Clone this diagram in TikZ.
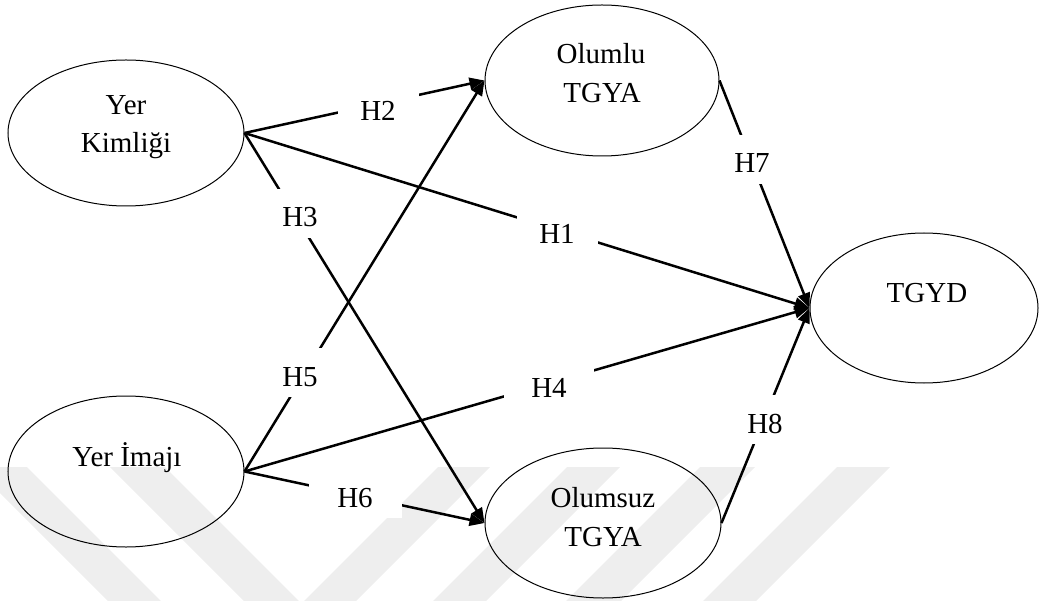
\documentclass[tikz,border=0pt]{standalone}
\usepackage{fontspec}
\setmainfont{Liberation Serif}
\usetikzlibrary{arrows.meta,shapes.geometric}
\definecolor{wmark}{RGB}{238,238,238}
\begin{document}
\begin{tikzpicture}[x=1pt,y=-1pt,
  construct/.style={ellipse, draw=black, line width=1pt, inner sep=0pt},
  caption/.style={font=\fontsize{29}{39}\selectfont, anchor=base, inner sep=0pt},
  link/.style={line width=2.5pt, -{Triangle[length=15pt,width=12pt]}},
  hyp/.style={fill=white, inner sep=0pt, font=\fontsize{29}{39}\selectfont,
    text height=27pt, text depth=0pt, minimum width=81pt, minimum height=49pt,
    anchor=base},
  stripe/.style={fill=wmark}
]
\useasboundingbox (0,0) rectangle (1040,601);

% faint chevron watermark along the bottom
\begin{scope}
  \clip (0,0) rectangle (1040,601);
  \fill[stripe] (-26,467) -- (27,467) -- (161,601) -- (108,601) -- cycle;
  \fill[stripe] (110,467) -- (165,467) -- (299,601) -- (244,601) -- cycle;
  \fill[stripe] (438,467) -- (490,467) -- (356,601) -- (304,601) -- cycle;
  \fill[stripe] (567,467) -- (620,467) -- (486,601) -- (433,601) -- cycle;
  \fill[stripe] (700,467) -- (755,467) -- (621,601) -- (566,601) -- cycle;
  \fill[stripe] (837,467) -- (890,467) -- (756,601) -- (703,601) -- cycle;
\end{scope}

% constructs
\node[construct, minimum width=236pt, minimum height=146pt] (yk) at (126,133) {};
\node[construct, minimum width=234pt, minimum height=151pt] (ol) at (602,80.5) {};
\node[construct, minimum width=228pt, minimum height=150pt] (td) at (924,308) {};
\node[construct, minimum width=236pt, minimum height=151pt] (yi) at (126,471.5) {};
\node[construct, minimum width=236pt, minimum height=150pt] (os) at (603,523) {};

\node[caption] (yk1) at (126,115) {Yer};
\node[caption] (yk2) at (126,153) {Kimliği};
\node[caption] (ol1) at (601,64) {Olumlu};
\node[caption] (ol2) at (602,103) {TGYA};
\node[caption] (td1) at (927,302) {TGYD};
\node[caption] (yi1) at (127,466) {Yer İmajı};
\node[caption] (os1) at (603,507) {Olumsuz};
\node[caption] (os2) at (603,546) {TGYA};

% hypothesised paths
\draw[link] (yk.east) -- (ol.west);
\draw[link] (yk.east) -- (td.west);
\draw[link] (yk.east) -- (os.west);
\draw[link] (yi.east) -- (ol.west);
\draw[link] (yi.east) -- (td.west);
\draw[link] (yi.east) -- (os.west);
\draw[link] (ol.east) -- (td.west);
\draw[link] (os.east) -- (td.west);

% hypothesis labels
\node[hyp] (h2) at (378,121) {H2};
\node[hyp] (h3) at (300,227) {H3};
\node[hyp] (h1) at (557,244) {H1};
\node[hyp] (h7) at (752,173) {H7};
\node[hyp] (h5) at (300,386) {H5};
\node[hyp, minimum width=93pt] (h6) at (355,507) {H6};
\node[hyp, minimum width=90pt] (h4) at (549,397) {H4};
\node[hyp] (h8) at (765,433) {H8};
\end{tikzpicture}
\end{document}
